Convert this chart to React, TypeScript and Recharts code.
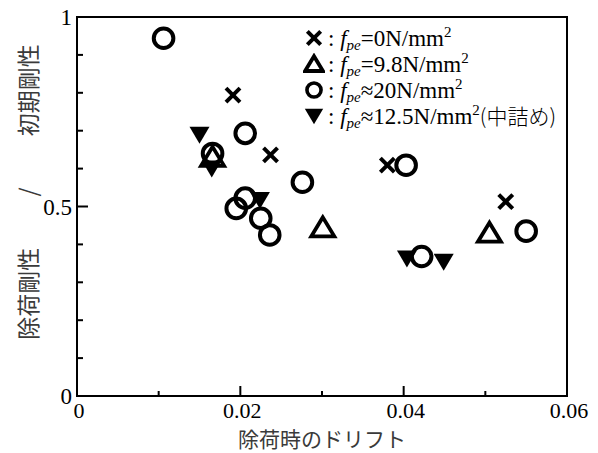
import React from "react";
import { ScatterChart, Scatter, XAxis, YAxis, ReferenceArea } from "recharts";

// x: 除荷時のドリフト, y: 除荷剛性 / 初期剛性
const crossX = [0.0191, 0.0237, 0.038, 0.0525];
const crossY = [0.794, 0.636, 0.609, 0.513];

const triUpX = [0.0166, 0.0301, 0.0505];
const triUpY = [0.631, 0.445, 0.431];

const circleX = [0.0106, 0.0166, 0.0206, 0.0195, 0.0206, 0.0225, 0.0236, 0.0276, 0.0403, 0.0422, 0.055];
const circleY = [0.944, 0.64, 0.693, 0.495, 0.522, 0.469, 0.425, 0.564, 0.609, 0.368, 0.435];

const triDownX = [0.015, 0.0165, 0.0224, 0.0404, 0.0449];
const triDownY = [0.689, 0.6, 0.517, 0.363, 0.354];

const xTicks = [0, 0.01, 0.02, 0.03, 0.04, 0.05, 0.06];
const xTickLabels = ["0", "", "0.02", "", "0.04", "", "0.06"];
const yTicks = [0, 0.1, 0.2, 0.3, 0.4, 0.5, 0.6, 0.7, 0.8, 0.9, 1];
const yTickLabels = ["0", "", "", "", "", "0.5", "", "", "", "", "1"];

const legendRel = ["=", "=", "≈", "≈"];
const legendVal = ["0", "9.8", "20", "12.5"];
const legendNote = ["", "", "", "(中詰め)"];

const toPoints = (xs: number[], ys: number[]) => xs.map((x, i) => ({ x, y: ys[i] }));

const SERIF = "Liberation Serif";
const JP = "Noto Sans CJK JP";

function Cross({ cx, cy, s = 1 }: any) {
  const d = 7 * s;
  return (
    <g stroke="#000" strokeWidth={4}>
      <line x1={cx - d} y1={cy - d} x2={cx + d} y2={cy + d} />
      <line x1={cx - d} y1={cy + d} x2={cx + d} y2={cy - d} />
    </g>
  );
}

function Ring({ cx, cy, s = 1 }: any) {
  return <circle cx={cx} cy={cy} r={9.8 * s} fill="none" stroke="#000" strokeWidth={4 * Math.max(s, 0.9)} />;
}

function TriUp({ cx, cy, s = 1 }: any) {
  const p = `${cx},${cy - 10 * s} ${cx - 11.5 * s},${cy + 9 * s} ${cx + 11.5 * s},${cy + 9 * s}`;
  return <polygon points={p} fill="none" stroke="#000" strokeWidth={3.8} />;
}

function TriDown({ cx, cy, s = 1 }: any) {
  const p = `${cx - 10 * s},${cy - 8 * s} ${cx + 10 * s},${cy - 8 * s} ${cx},${cy + 9 * s}`;
  return <polygon points={p} fill="#000" stroke="none" />;
}

const legendShapes = [Cross, TriUp, Ring, TriDown];
const legendScale = [0.95, 0.78, 0.72, 0.92];

function XTick({ x, y, index }: any) {
  const len = index % 2 === 0 ? 10 : 5;
  return (
    <g>
      {index > 0 && index < 6 && <line x1={x} x2={x} y1={y} y2={y - len} stroke="#000" strokeWidth={2} />}
      <text x={x + 2} y={y + 22} textAnchor="middle" fontFamily={SERIF} fontSize={22} fill="#000">
        {xTickLabels[index]}
      </text>
    </g>
  );
}

function YTick({ x, y, index }: any) {
  const len = index === 5 ? 11 : 6;
  return (
    <g>
      {index > 0 && index < 10 && <line x1={x} x2={x + len} y1={y} y2={y} stroke="#000" strokeWidth={2} />}
      <text x={x - 5} y={y + 8} textAnchor="end" fontFamily={SERIF} fontSize={23} fill="#000">
        {yTickLabels[index]}
      </text>
    </g>
  );
}

function LegendBox() {
  return (
    <div
      style={{
        position: "absolute",
        left: 303,
        top: 25,
        fontFamily: SERIF,
        fontSize: 23,
        color: "#000",
        lineHeight: "26px",
      }}
    >
      {legendShapes.map((Shape, i) => (
        <div key={i} style={{ display: "flex", alignItems: "center", height: 26, whiteSpace: "nowrap" }}>
          <svg width={22} height={22} style={{ display: "block" }}>
            <Shape cx={11} cy={11} s={legendScale[i]} />
          </svg>
          <span style={{ marginLeft: 3 }}>
            :{" "}
            <i>f</i>
            <sub style={{ fontSize: 15, verticalAlign: -4, lineHeight: 0 }}>
              <i>pe</i>
            </sub>
            {legendRel[i]}
            {legendVal[i]}N/mm<sup style={{ fontSize: 15, verticalAlign: 9, lineHeight: 0 }}>2</sup>
            <span style={{ fontFamily: JP, fontWeight: 300, fontSize: 21 }}>{legendNote[i]}</span>
          </span>
        </div>
      ))}
    </div>
  );
}

export default function App() {
  return (
    <div style={{ position: "absolute", left: 0, top: 0, width: 598, height: 453, background: "#fff" }}>
      <ScatterChart width={598} height={453} margin={{ top: 17, right: 31, bottom: 0, left: 0 }}>
        <XAxis
          type="number"
          dataKey="x"
          domain={[0, 0.06]}
          ticks={xTicks}
          interval={0}
          height={57}
          tickSize={0}
          tickMargin={0}
          tickLine={false}
          axisLine={{ stroke: "#000", strokeWidth: 2 }}
          tick={<XTick />}
          label={{
            content: () => (
              <text x={322} y={447} textAnchor="middle" fontFamily={JP} fontSize={21} fill="#3a3a3a">
                除荷時のドリフト
              </text>
            ),
          }}
        />
        <YAxis
          type="number"
          dataKey="y"
          domain={[0, 1]}
          ticks={yTicks}
          interval={0}
          width={77}
          tickSize={0}
          tickMargin={0}
          tickLine={false}
          axisLine={{ stroke: "#000", strokeWidth: 2 }}
          tick={<YTick />}
          label={{
            content: () => (
              <text
                x={27}
                y={192}
                transform="rotate(-90 27 192)"
                textAnchor="middle"
                dominantBaseline="central"
                fontFamily={JP}
                fontSize={23}
                fill="#3a3a3a"
                style={{ whiteSpace: "pre" }}
              >
                {"除荷剛性　　 /　　 初期剛性"}
              </text>
            ),
          }}
        />
        <ReferenceArea x1={0} x2={0.06} y1={0} y2={1} fill="none" stroke="#000" strokeWidth={2} ifOverflow="visible" />
        <Scatter data={toPoints(circleX, circleY)} shape={(p: any) => <Ring cx={p.cx} cy={p.cy} />} isAnimationActive={false} />
        <Scatter data={toPoints(crossX, crossY)} shape={(p: any) => <Cross cx={p.cx} cy={p.cy} />} isAnimationActive={false} />
        <Scatter data={toPoints(triUpX, triUpY)} shape={(p: any) => <TriUp cx={p.cx} cy={p.cy} />} isAnimationActive={false} />
        <Scatter data={toPoints(triDownX, triDownY)} shape={(p: any) => <TriDown cx={p.cx} cy={p.cy} />} isAnimationActive={false} />
      </ScatterChart>
      <LegendBox />
    </div>
  );
}
